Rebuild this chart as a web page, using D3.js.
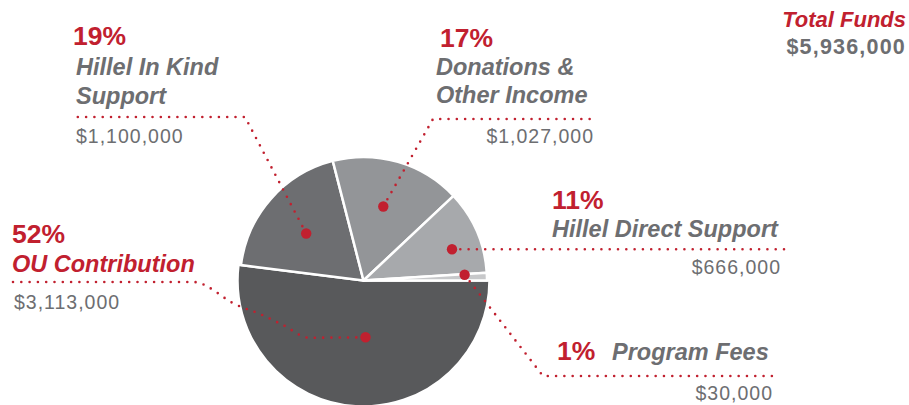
<!DOCTYPE html>
<html>
<head>
<meta charset="utf-8">
<script src="https://cdn.jsdelivr.net/npm/d3@7"></script>
<style>
  body { margin: 0; background: #fff; }
  text { font-family: "Liberation Sans", Arial, sans-serif; }
</style>
</head>
<body>
<svg id="chart"></svg>
<script>
/* Data */
const categories = ["OU Contribution", "Hillel In Kind Support", "Donations & Other Income", "Hillel Direct Support", "Program Fees"];
const nameLines = [["OU Contribution"], ["Hillel In Kind", "Support"], ["Donations &", "Other Income"], ["Hillel Direct Support"], ["Program Fees"]];
const percents = [52, 19, 17, 11, 1];
const amounts = [3113000, 1100000, 1027000, 666000, 30000];
const totalLabel = "Total Funds";
const totalFunds = 5936000;

/* Dimensions */
let width = 909;
let height = 405;
let cx = 363.5, cy = 280.5;
let radius = 123.5;
let red = "#c1202f";
let gray = "#6d6e71";
let sliceColors = ["#58595b", "#6d6e71", "#939598", "#a7a9ac", "#c7c8ca"];
let startAngle = 90 * Math.PI / 180;

/* Label layout: where the dot sits inside the slice (t along the angle,
   rf of the radius), where the texts go and the leader route to them */
let layout = [
  {t: .47, rf: .46, outer: 126,
   pct: [12, 243], name: [12, 272], nameColor: red, amt: [14, 309, "start"],
   route: [[309, 337.7], [283, 325], [260, 314], [236.7, 305], [193, 282], [13, 282]], curve: true},
  {t: .47, rf: .60, outer: 123.5,
   pct: [73, 45], name: [76, 75], nameColor: gray, amt: [76, 143, "start"],
   route: [[245, 117], [74, 117]]},
  {t: .48, rf: .62, outer: 123.5,
   pct: [440, 47], name: [436, 74.5], nameColor: gray, amt: [594, 143, "end"],
   route: [[433, 119], [593, 119]]},
  {t: .6, rf: .76, outer: 123.5,
   pct: [552, 209], name: [552, 237], nameColor: gray, amt: [781, 274, "end"],
   route: [[786, null]]},
  {t: .1, rf: .82, outer: 123.5,
   pct: [557, 360], name: [612, 360], nameColor: gray, amt: [773, 400, "end"],
   route: [[543, 376], [780, 376]]}
];

let svg = d3.select("#chart")
            .attr("width", width)
            .attr("height", height);

let pie = d3.pie()
            .sort(null)
            .value(d => d)
            .startAngle(startAngle)
            .endAngle(startAngle + 2 * Math.PI);

let arcs = pie(percents);

let arc = d3.arc()
            .innerRadius(0)
            .outerRadius((d, i) => layout[i].outer);

// slices
svg.append("g")
    .attr("transform", `translate(${cx}, ${cy})`)
  .selectAll("path")
  .data(arcs)
  .join("path")
    .attr("d", (d, i) => arc(d, i))
    .attr("fill", (d, i) => sliceColors[i])
    .attr("stroke", "#fff")
    .attr("stroke-width", 2.5)
    .attr("stroke-linejoin", "round");

// dot positions inside each slice
let dots = arcs.map((d, i) => {
  let a = d.startAngle + layout[i].t * (d.endAngle - d.startAngle);
  let r = layout[i].rf * radius;
  return [cx + r * Math.sin(a), cy - r * Math.cos(a)];
});

// dotted leaders
let straight = d3.line();
let curved = d3.line().curve(d3.curveMonotoneX);

svg.append("g")
  .selectAll("path")
  .data(layout)
  .join("path")
    .attr("d", (l, i) => {
      let pts = [dots[i]].concat(l.route.map(p => [p[0], p[1] === null ? dots[i][1] : p[1]]));
      if (l.curve) return curved(pts.slice().reverse());
      return straight(pts);
    })
    .attr("fill", "none")
    .attr("stroke", red)
    .attr("stroke-width", 2.6)
    .attr("stroke-linecap", "round")
    .attr("stroke-dasharray", "0 8.3");

svg.append("g")
  .selectAll("circle")
  .data(dots)
  .join("circle")
    .attr("cx", d => d[0])
    .attr("cy", d => d[1])
    .attr("r", 5.2)
    .attr("fill", red);

// labels
let fmt = d3.format("$,");
let labels = svg.append("g");

layout.forEach((l, i) => {
  labels.append("text")
      .attr("x", l.pct[0])
      .attr("y", l.pct[1])
      .attr("fill", red)
      .attr("font-weight", "bold")
      .attr("font-size", 26.5)
      .text(percents[i] + "%");

  nameLines[i].forEach((line, j) => {
    labels.append("text")
        .attr("x", l.name[0])
        .attr("y", l.name[1] + j * 28.5)
        .attr("fill", l.nameColor)
        .attr("font-weight", "bold")
        .attr("font-style", "italic")
        .attr("font-size", 23.5)
        .text(line);
  });

  labels.append("text")
      .attr("x", l.amt[0])
      .attr("y", l.amt[1])
      .attr("text-anchor", l.amt[2])
      .attr("fill", gray)
      .attr("font-size", 19.5)
      .attr("letter-spacing", 1)
      .text(fmt(amounts[i]));
});

// total
labels.append("text")
    .attr("x", 906)
    .attr("y", 27)
    .attr("text-anchor", "end")
    .attr("fill", red)
    .attr("font-weight", "bold")
    .attr("font-style", "italic")
    .attr("font-size", 22)
    .text(totalLabel);

labels.append("text")
    .attr("x", 906)
    .attr("y", 53.5)
    .attr("text-anchor", "end")
    .attr("fill", gray)
    .attr("font-weight", "bold")
    .attr("font-size", 21.5)
    .attr("letter-spacing", 1.2)
    .text(fmt(totalFunds));
</script>
</body>
</html>
